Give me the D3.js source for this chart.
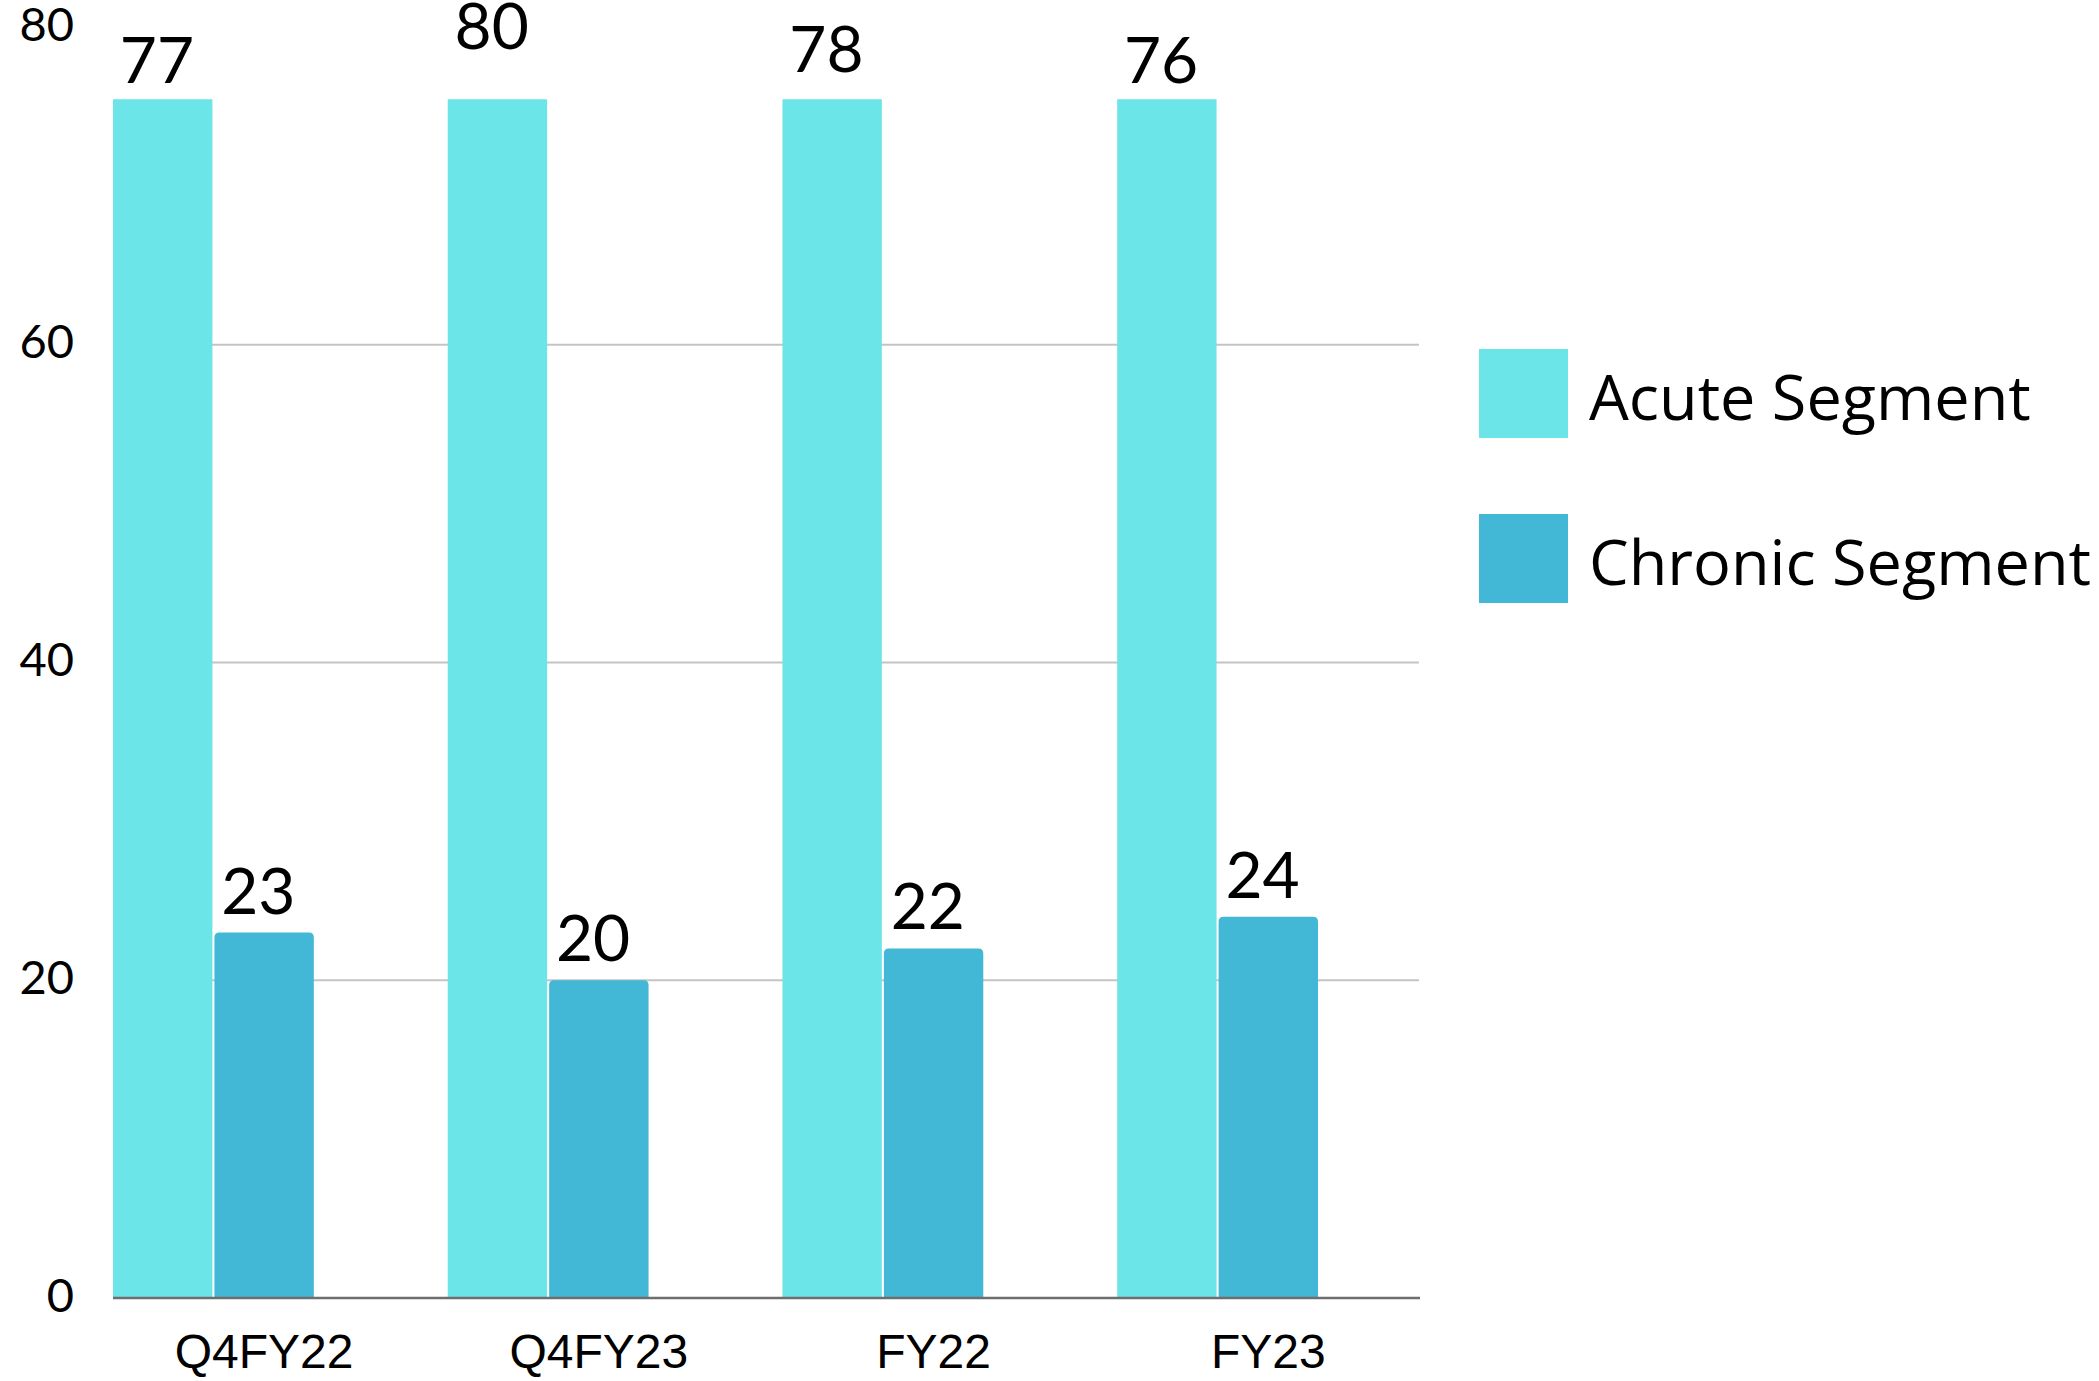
<!DOCTYPE html>
<html>
<head>
<meta charset="utf-8">
<script src="https://cdn.jsdelivr.net/npm/d3@7"></script>
<style>
  html, body { margin: 0; padding: 0; background: #ffffff; }
  svg { display: block; }
</style>
</head>
<body>
<div id="chart"></div>
<script>
// ---- data ----
const categories = ["Q4FY22", "Q4FY23", "FY22", "FY23"];
const seriesNames = ["Acute Segment", "Chronic Segment"];
const acuteValues = [77, 80, 78, 76];
const chronicValues = [23, 20, 22, 24];
const yTickValues = [0, 20, 40, 60, 80];
const gridValues = [20, 40, 60];
const seriesColors = ["#6ce5e8", "#42b7d6"];
// value at which the plotting area clips the bars (as seen in the source chart)
const plotClipValue = 75.45;

// ---- layout ----
const W = 2099, H = 1381;
const plotLeft = 113, plotRight = 1419, plotBottom = 1298, plotTop = 27;

const svg = d3.select("#chart").append("svg")
  .attr("width", W).attr("height", H)
  .attr("viewBox", `0 0 ${W} ${H}`);

const y = d3.scaleLinear().domain([0, 80]).range([plotBottom, plotTop]);
const x0 = d3.scaleBand().domain(categories).range([plotLeft, 1318]).paddingInner(0.4).paddingOuter(0);
const x1 = d3.scaleBand().domain(seriesNames).range([0, x0.bandwidth()]).paddingInner(0.02).paddingOuter(0);

const data = categories.map((c, i) => ({
  cat: c,
  vals: [
    { s: seriesNames[0], v: acuteValues[i], k: 0 },
    { s: seriesNames[1], v: chronicValues[i], k: 1 }
  ]
}));

// gridlines
svg.append("g").selectAll("line").data(gridValues).join("line")
  .attr("x1", plotLeft).attr("x2", plotRight)
  .attr("y1", d => y(d)).attr("y2", d => y(d))
  .attr("stroke", "#c4c4c4").attr("stroke-width", 2);

// clip for bars
svg.append("clipPath").attr("id", "plotclip").append("rect")
  .attr("x", 0).attr("y", y(plotClipValue))
  .attr("width", W).attr("height", plotBottom - y(plotClipValue));

// rounded-top bar path
function barPath(x, yTop, w, yBot, r) {
  r = Math.min(r, w / 2, (yBot - yTop));
  return `M${x},${yBot}V${yTop + r}Q${x},${yTop} ${x + r},${yTop}H${x + w - r}Q${x + w},${yTop} ${x + w},${yTop + r}V${yBot}Z`;
}

const groups = svg.append("g").attr("clip-path", "url(#plotclip)")
  .selectAll("g").data(data).join("g")
  .attr("transform", d => `translate(${x0(d.cat)},0)`);

groups.selectAll("path").data(d => d.vals).join("path")
  .attr("d", d => barPath(x1(d.s), y(d.v), x1.bandwidth(), y(0), d.k === 1 ? 5 : 0))
  .attr("fill", d => seriesColors[d.k]);

// baseline
svg.append("line")
  .attr("x1", plotLeft).attr("x2", plotRight + 1)
  .attr("y1", y(0)).attr("y2", y(0))
  .attr("stroke", "#6e6e6e").attr("stroke-width", 2.5);

// value labels
const clipTopY = y(plotClipValue);
// acute labels sit above the clipped bars, compressed between the clip edge and the top
const acuteLabelY = d3.scaleLinear()
  .domain([d3.min(acuteValues) + 1, d3.max(acuteValues)])
  .range([clipTopY - 16, y(d3.max(acuteValues)) + 22])
  .clamp(true);
const labels = svg.append("g").selectAll("g").data(data).join("g")
  .attr("transform", d => `translate(${x0(d.cat)},0)`);
labels.selectAll("text").data(d => d.vals).join("text")
  .attr("x", d => x1(d.s) + x1.bandwidth() / 2)
  .attr("dx", "-0.09em")
  .attr("y", d => d.k === 0 ? acuteLabelY(d.v) : y(d.v) - 19)
  .attr("text-anchor", "middle")
  .attr("font-family", "Lato, 'Noto Sans', sans-serif")
  .attr("font-size", 64)
  .attr("fill", "#000")
  .text(d => d.v);

// y axis labels
const yAxis = d3.axisLeft(y).tickValues(yTickValues).tickSize(0).tickPadding(0);
const yg = svg.append("g").attr("transform", "translate(74,-2)").call(yAxis);
yg.select(".domain").remove();
yg.selectAll("text")
  .attr("font-family", "Lato, 'Noto Sans', sans-serif")
  .attr("font-size", 47)
  .attr("fill", "#000");

// x axis labels (centred under second bar of each group)
const xg = svg.append("g");
xg.selectAll("text").data(categories).join("text")
  .attr("x", d => x0(d) + x1(seriesNames[1]) + x1.bandwidth() / 2)
  .attr("y", 1368)
  .attr("text-anchor", "middle")
  .attr("font-family", "'Liberation Sans', Arial, sans-serif")
  .attr("font-size", 48)
  .attr("fill", "#000")
  .text(d => d);

// legend
const legend = svg.append("g").attr("transform", "translate(1479,349)");
const li = legend.selectAll("g").data(seriesNames).join("g")
  .attr("transform", (d, i) => `translate(0,${i * 165})`);
li.append("rect").attr("width", 89).attr("height", 89)
  .attr("fill", (d, i) => seriesColors[i]);
li.append("text")
  .attr("x", 110).attr("y", 71)
  .attr("font-family", "'Open Sans', 'Noto Sans', sans-serif")
  .attr("font-size", 63)
  .attr("fill", "#000")
  .text(d => d);
</script>
</body>
</html>
